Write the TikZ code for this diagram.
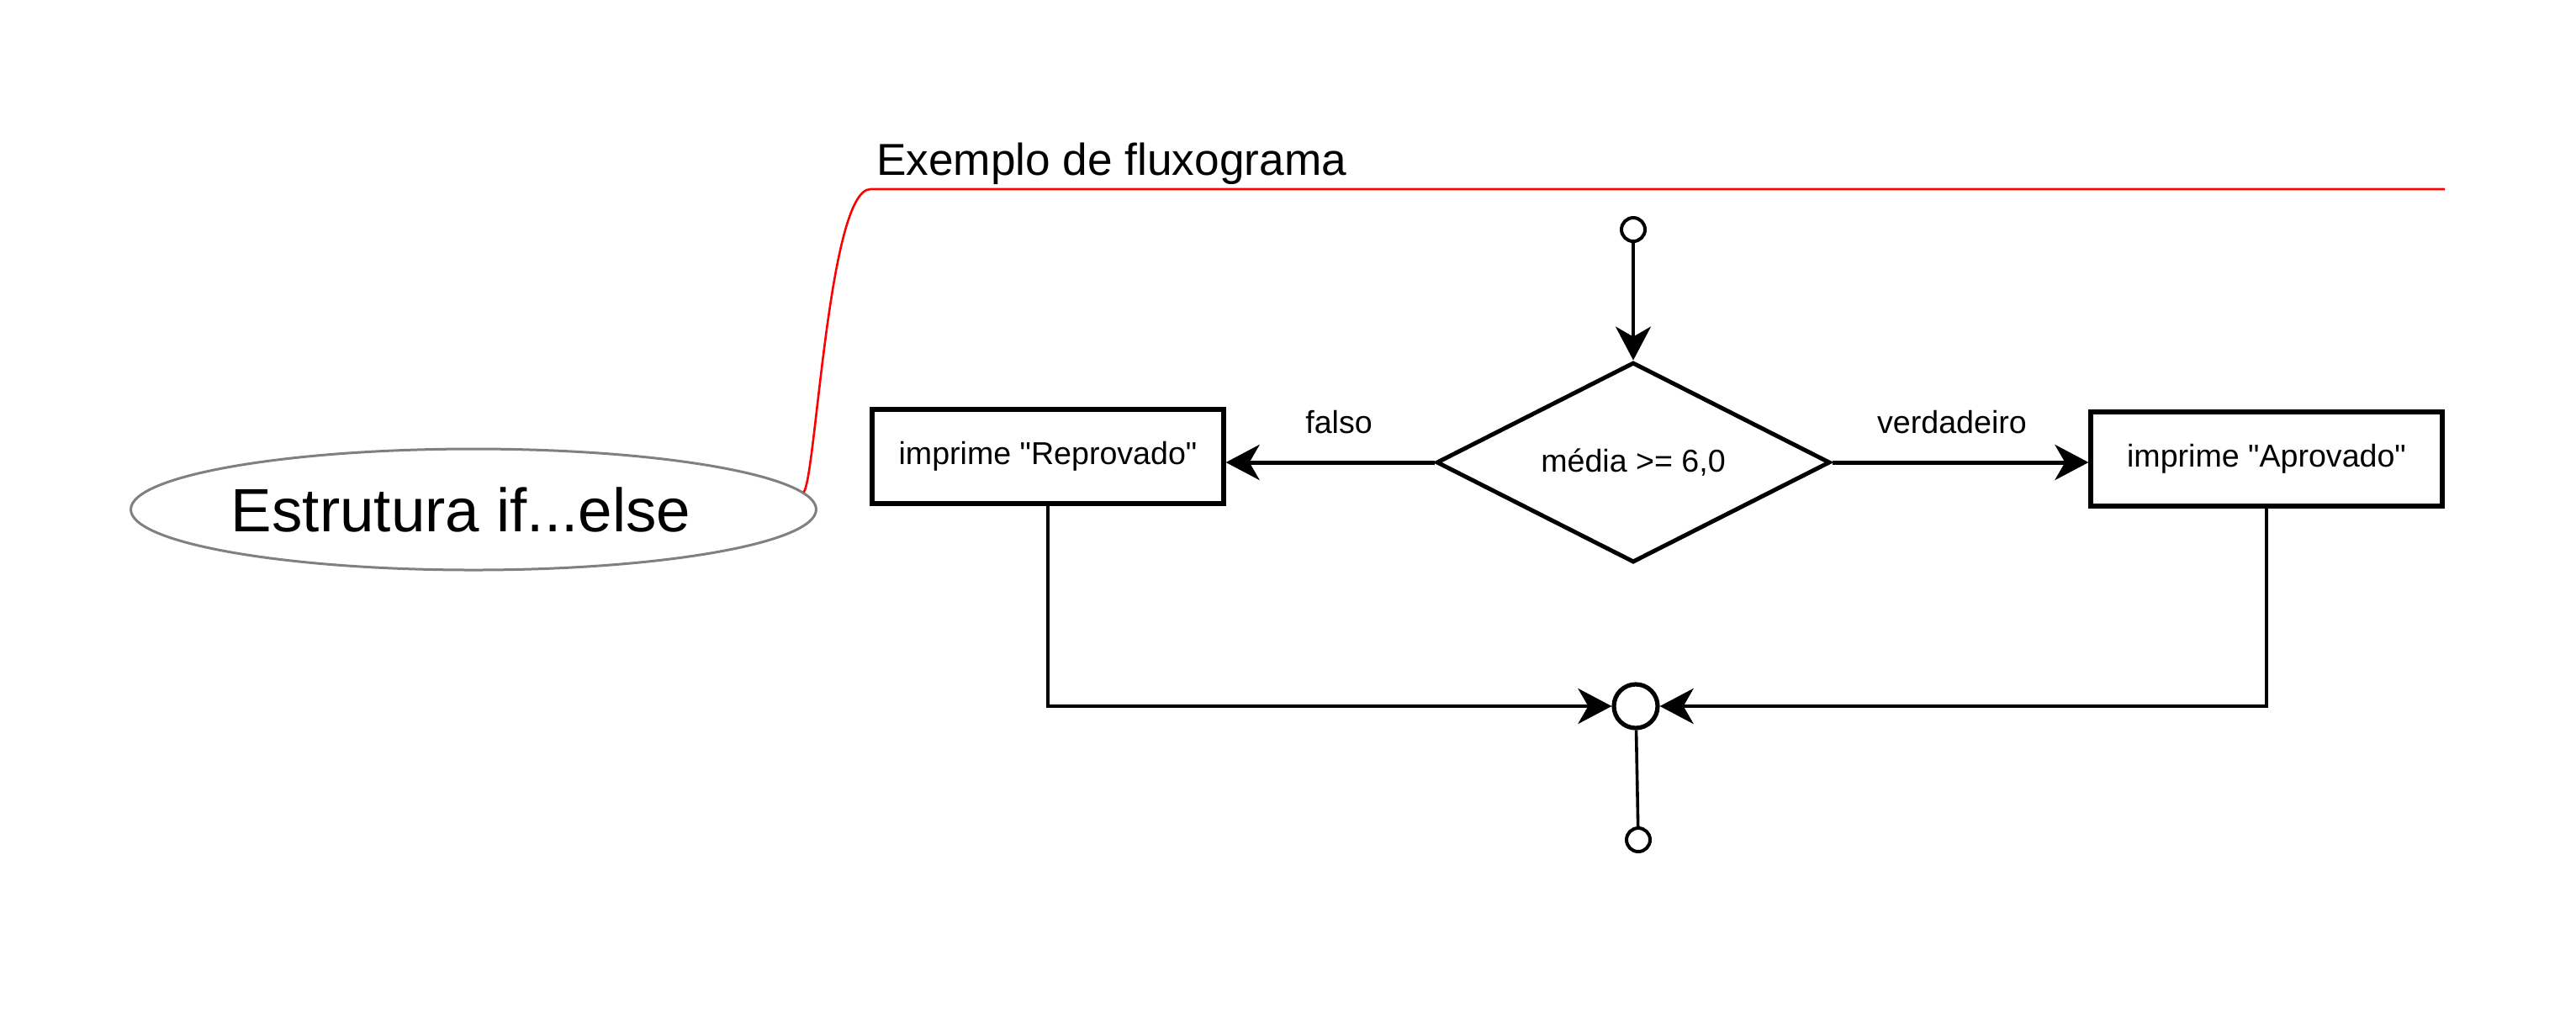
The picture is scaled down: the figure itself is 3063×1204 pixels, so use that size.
\documentclass[tikz,border=0pt]{standalone}
\usepackage{fontspec}
\setmainfont{Liberation Sans}
\newfontfamily\boxfont{Liberation Sans}
\usetikzlibrary{shapes.geometric,arrows.meta}
\begin{document}
\begin{tikzpicture}[x=.25pt, y=-.25pt]
  % Colors
  \definecolor{blank}{HTML}{ffffff}
  \definecolor{outline}{HTML}{000000}
  \definecolor{topicline}{HTML}{808080}
  \definecolor{branch}{HTML}{ff0000}

  % Configurations
  \tikzset{
    flow/.style={line width=#1, draw=outline},
    flow/.default=1.25pt,
    flowarrow/.style={-{Stealth[length=10pt, width=10.5pt, inset=3pt]}},
    txt/.style={font=\boxfont\fontsize{9.4}{11}\selectfont},
    process/.style={rectangle, draw=outline, line width=1.3pt, fill=blank,
      minimum width=104.5pt, minimum height=28pt, inner sep=0pt, txt},
    decision/.style={diamond, draw=outline, line width=1.25pt, fill=blank,
      minimum width=117pt, minimum height=59.5pt, aspect=2, inner sep=0pt, txt},
    terminal/.style={circle, draw=outline, line width=1pt, fill=blank,
      minimum size=#1, inner sep=0pt},
    terminal/.default=7pt
  }

  % Bounding box
  \useasboundingbox [fill=blank] (0,0) rectangle (3063,1204);

  % Topic and branch title
  \node [ellipse, draw=topicline, line width=.75pt, minimum width=203pt,
    minimum height=36pt, inner sep=0pt,
    font=\fontsize{18.2}{22}\selectfont] (topic) at (563,606)
    {Estrutura if...else\hspace*{7.5pt}};
  \node [anchor=base west, font=\fontsize{13.3}{16}\selectfont]
    (title) at (1028,208) {Exemplo de fluxograma};

  % Flowchart
  \node [terminal] (start) at (1942,273) {};
  \node [decision] (test) at (1942,550) {média >= 6,0};
  \node [process] (repr) at (1246,543) {imprime "Reprovado"};
  \node [process] (aprov) at (2695,546) {imprime "Aprovado"};
  \node [terminal=13pt, line width=1.3pt] (join) at (1945,840) {};
  \node [terminal] (stop) at (1948,999) {};
  \node [txt] (falso) at (1592,502) {falso};
  \node [txt] (verd) at (2321,502) {verdadeiro};

  % Connectors
  \draw [branch, line width=.65pt] (topic.3)
    .. controls (970,570) and (985,225) .. (1035,225) -- (2907,225);
  \draw [flow=.9pt, flowarrow] (start) -- (test);
  \draw [flow, flowarrow] (test.west) -- (test.west -| repr.east);
  \draw [flow, flowarrow] (test.east) -- (test.east -| aprov.west);
  \draw [flow=1.2pt, flowarrow] (repr.south) |- (join.west);
  \draw [flow=1.2pt, flowarrow] (aprov.south) |- (join.east);
  \draw [flow=.9pt] (join) -- (stop);
\end{tikzpicture}
\end{document}
